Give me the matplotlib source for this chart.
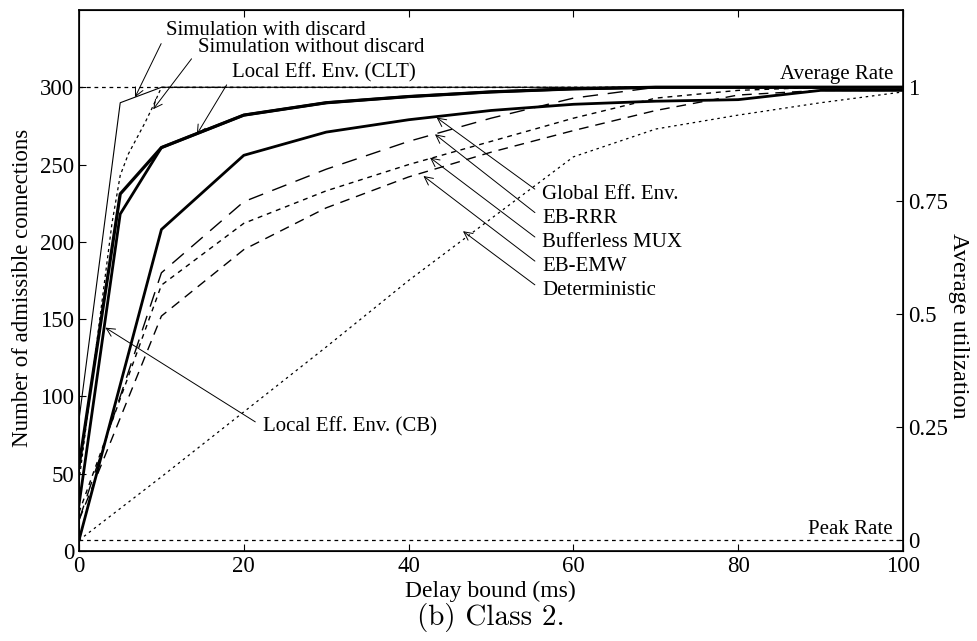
import numpy as np
from matplotlib import pyplot as plt

plt.rcParams['font.family'] = ['Liberation Serif', 'DejaVu Serif']

# delay bound (ms)
delay = [0, 10, 20, 30, 40, 50, 60, 70, 80, 90, 100]

# curves (number of admissible connections)
sim_discard_x = [0, 5, 10, 100]
sim_discard = [85, 290, 300, 300]
sim_nodiscard_x = [0, 4, 5, 6, 7, 8, 9, 10, 100]
sim_nodiscard = [45, 212, 243, 257, 267, 277, 288, 300, 300]
clt_x = [0, 5, 10, 20, 30, 40, 50, 60, 70, 80, 90, 100]
clt = [55, 231, 261, 282, 290, 294, 297, 299, 300, 300, 300, 300]
cb_x = [0, 5, 10, 20, 30, 40, 50, 60, 70, 80, 90, 100]
cb = [30, 218, 261, 282, 290, 294, 297, 299, 300, 300, 300, 300]
global_env = [7, 208, 256, 271, 279, 285, 289, 291, 292, 298, 298]
eb_rrr = [20, 180, 226, 247, 265, 280, 293, 300, 300, 300, 300]
bufferless = [25, 172, 212, 233, 250, 265, 280, 293, 298, 300, 300]
eb_emw = [20, 152, 195, 222, 242, 258, 272, 285, 295, 298, 298]
deterministic = [7, 48, 90, 132, 175, 215, 255, 273, 282, 290, 297]

avg_rate = 300
peak_rate = 7

fig = plt.figure(figsize=(9.78, 6.41), dpi=100)
ax = fig.add_axes([0.0808, 0.1404, 0.8425, 0.844])

# reference lines
ax.axhline(avg_rate, color='k', lw=0.9, ls=(0, (3, 3)))
ax.axhline(peak_rate, color='k', lw=0.9, ls=(0, (3, 3)))

ax.plot(sim_discard_x, sim_discard, color='k', lw=0.8)
ax.plot(sim_nodiscard_x, sim_nodiscard, color='k', lw=0.9, ls=(0, (2.5, 2.5)))
ax.plot(clt_x, clt, color='k', lw=2.3)
ax.plot(cb_x, cb, color='k', lw=2.0)
ax.plot(delay, global_env, color='k', lw=2.0)
ax.plot(delay, eb_rrr, color='k', lw=1.0, ls=(0, (11, 7)))
ax.plot(delay, bufferless, color='k', lw=1.0, ls=(0, (3.5, 3.5)))
ax.plot(delay, eb_emw, color='k', lw=1.0, ls=(0, (7, 5)))
ax.plot(delay, deterministic, color='k', lw=0.9, ls=(0, (2, 3)))

ax.set_xlim(0, 100)
ax.set_ylim(0, 350)
ax.set_xticks([0, 20, 40, 60, 80, 100])
ax.set_yticks([0, 50, 100, 150, 200, 250, 300])
ax.tick_params(direction='in', top=True, labelsize=16.5, length=5, width=0.8)
for s in ax.spines.values():
    s.set_linewidth(1.2)
ax.set_xlabel('Delay bound (ms)', fontsize=17, va='center')
ax.set_ylabel('Number of admissible connections', fontsize=16.5, va='center')
ax.xaxis.set_label_coords(0.499, -0.074)
ax.yaxis.set_label_coords(-0.069, 0.486)

# right axis: utilization between peak rate and average rate
ax2 = ax.twinx()
ax2.set_ylim((0 - peak_rate) / (avg_rate - peak_rate), (350 - peak_rate) / (avg_rate - peak_rate))
ax2.set_yticks([0, 0.25, 0.5, 0.75, 1])
ax2.set_yticklabels(['0', '0.25', '0.5', '0.75', '1'])
ax2.tick_params(direction='in', labelsize=16.5, length=5, width=0.8)
ax2.set_ylabel('Average utilization', fontsize=17.5, rotation=270, va='center')
ax2.yaxis.set_label_coords(1.067, 0.416)

fs = 15


def arrow(rel=(0, 0.5)):
    return dict(arrowstyle='->', color='k', lw=0.7, shrinkA=4, shrinkB=0, relpos=rel)


ax.annotate('Simulation with discard', xy=(6.8, 293.6), xytext=(10.6, 337),
            fontsize=fs, ha='left', va='center', arrowprops=arrow((0, 0.35)))
ax.annotate('Simulation without discard', xy=(9.0, 285.8), xytext=(14.4, 325.5),
            fontsize=fs, ha='left', va='center', arrowprops=arrow((0, 0.35)))
ax.annotate('Local Eff. Env. (CLT)', xy=(14.3, 269.6), xytext=(18.6, 309.5),
            fontsize=fs, ha='left', va='center', arrowprops=arrow((0, 0.35)))
ax.annotate('Local Eff. Env. (CB)', xy=(3.2, 144.5), xytext=(22.3, 80.5),
            fontsize=fs, ha='left', va='center', arrowprops=arrow())

labels = ['Global Eff. Env.', 'EB-RRR', 'Bufferless MUX', 'EB-EMW', 'Deterministic']
tips = [(43.4, 280.4), (43.2, 269.6), (42.6, 254.5), (41.8, 242.6), (46.6, 206.9)]
label_y = [230.7, 215.3, 199.6, 184.0, 168.7]
for lab, tip, ly in zip(labels, tips, label_y):
    ax.annotate(lab, xy=tip, xytext=(56.2, ly), fontsize=fs, ha='left', va='center',
                arrowprops=arrow())

ax.text(98.8, 302, 'Average Rate', fontsize=fs, ha='right', va='bottom')
ax.text(98.8, 7.5, 'Peak Rate', fontsize=fs, ha='right', va='bottom')

fig.text(0.502, 0.037, '(b) Class 2.', fontsize=21, family='cmr10', ha='center', va='center')

fig.savefig('out.png', dpi=100)
